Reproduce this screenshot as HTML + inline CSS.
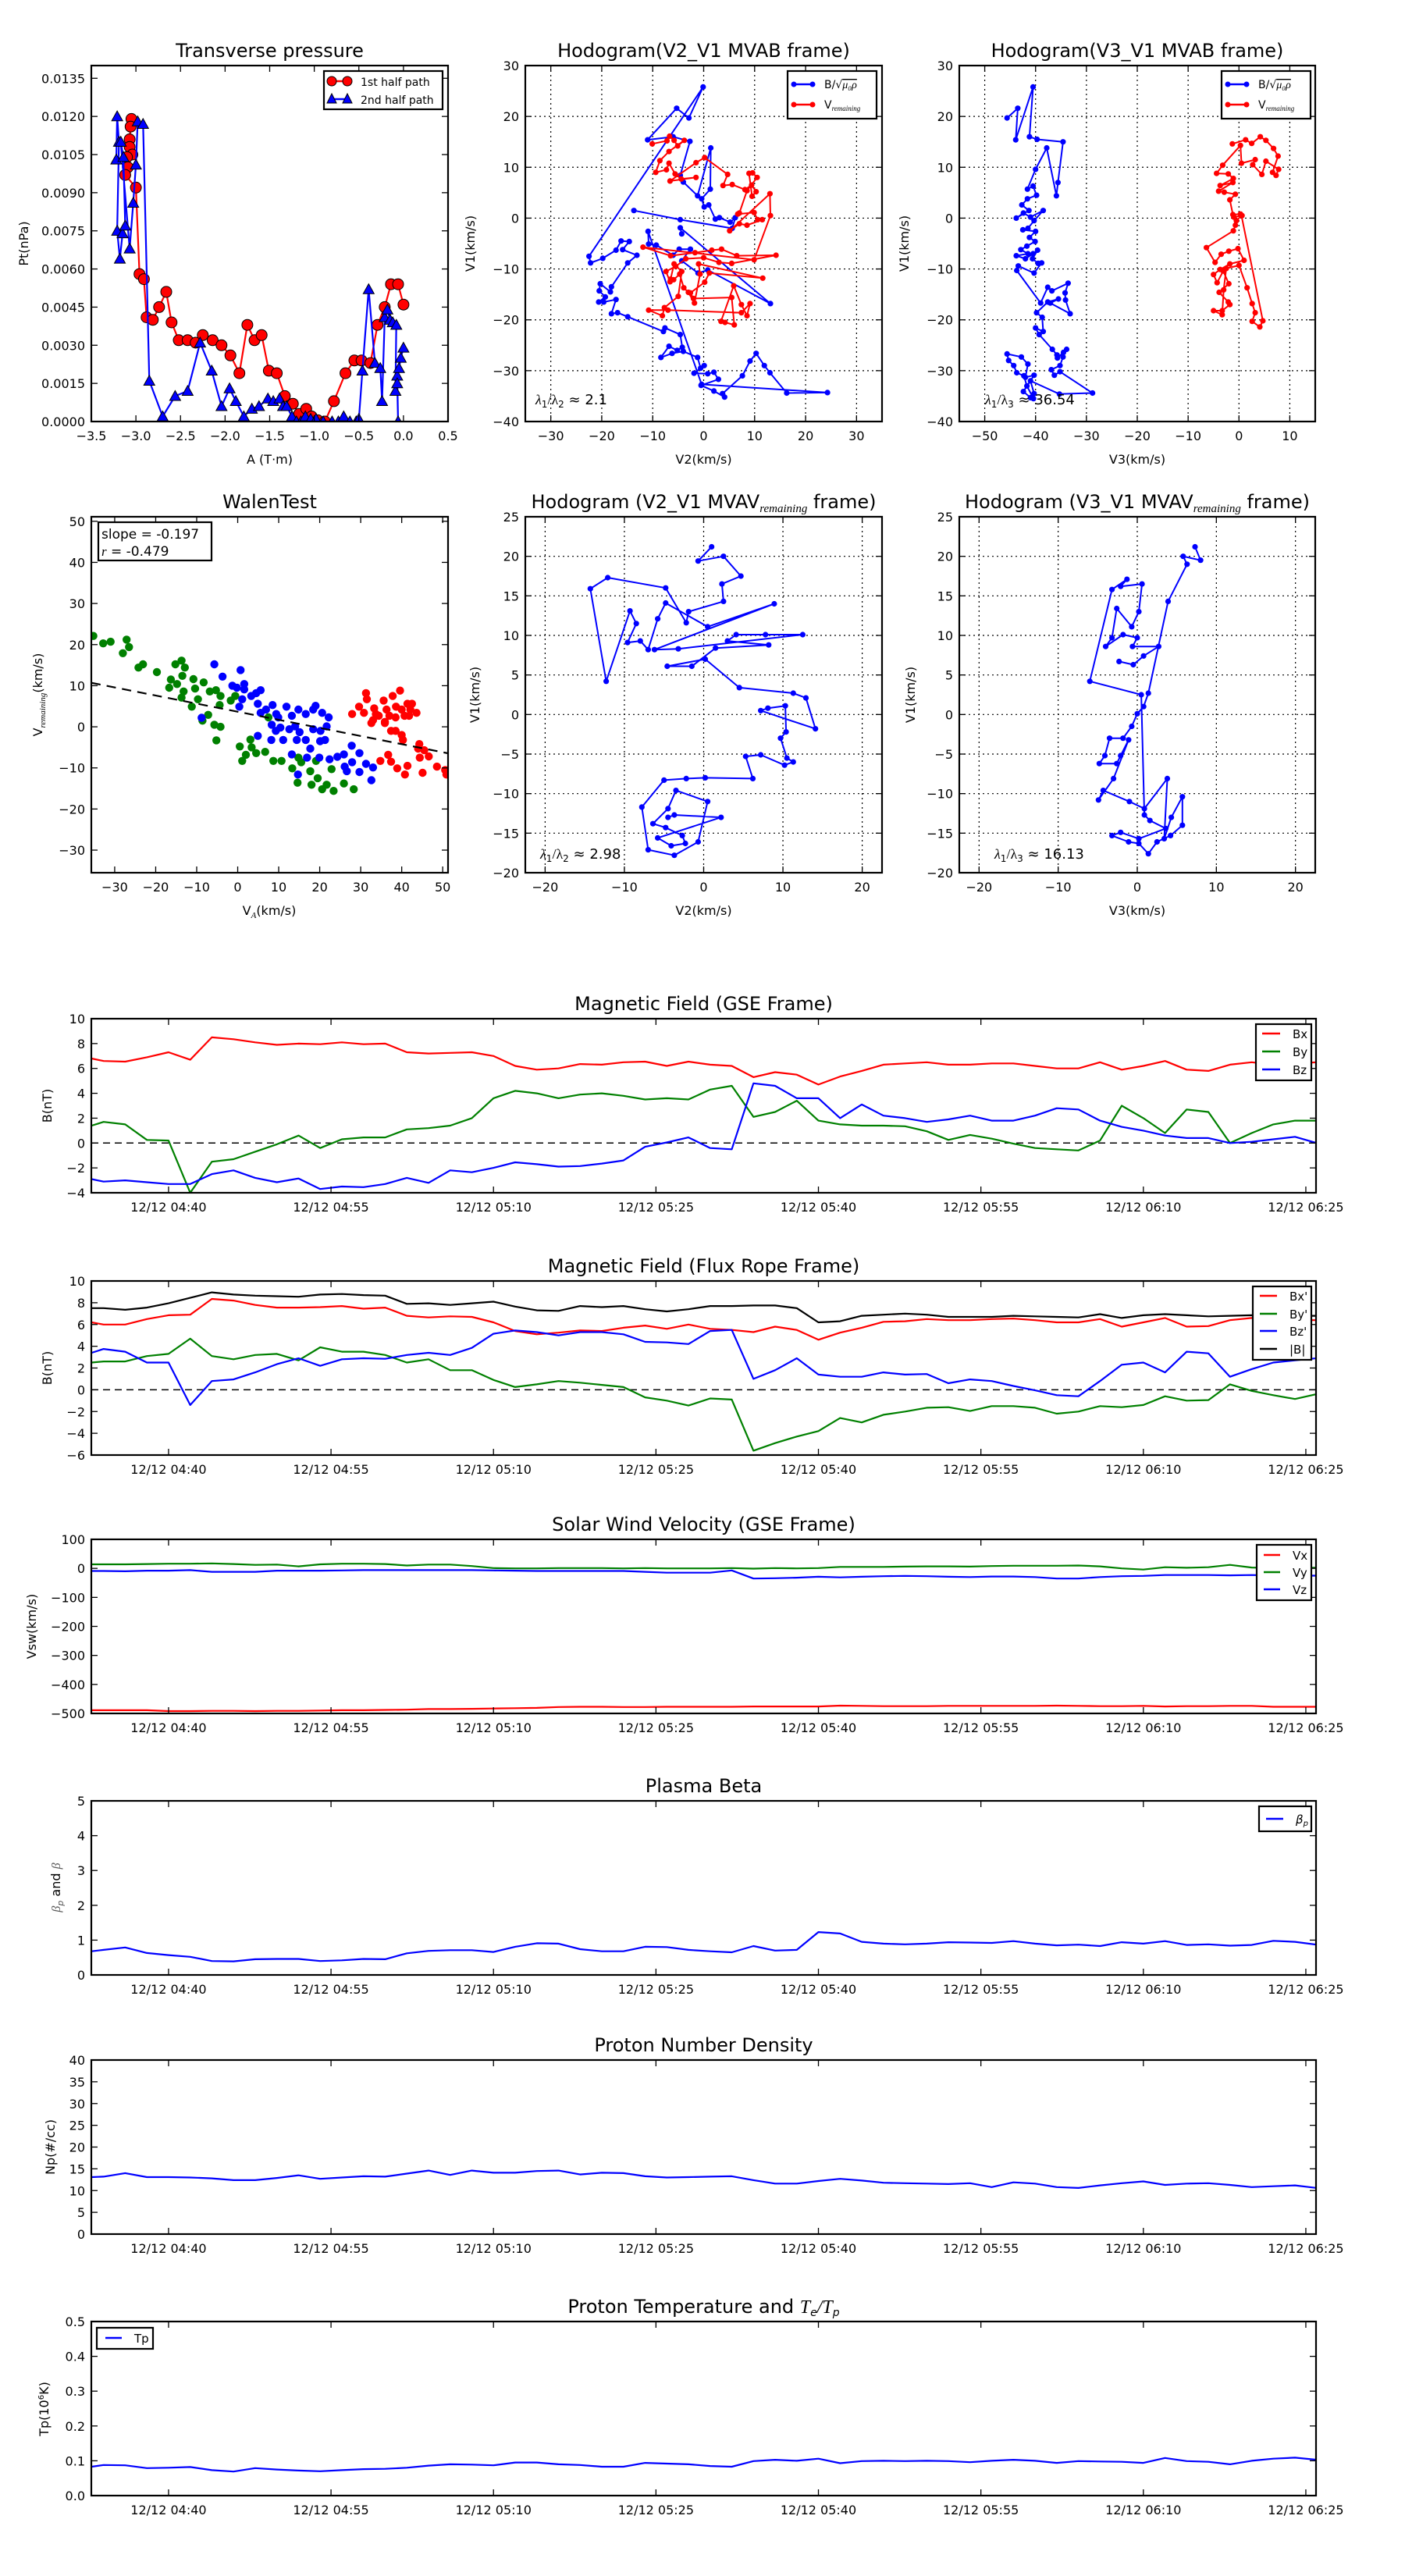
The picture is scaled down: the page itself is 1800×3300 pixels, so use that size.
<!DOCTYPE html>
<html><head><meta charset="utf-8">
<style>
body{margin:0;background:#fff}
svg{display:block}
text{font-family:"DejaVu Sans","Liberation Sans",sans-serif;fill:#000}
</style></head>
<body>
<svg id="fig" width="1800" height="3300" viewBox="0 0 1800 3300" xmlns="http://www.w3.org/2000/svg">
<rect x="0" y="0" width="1800" height="3300" fill="#fff"/>
</svg>
<script>
// ---------------- Time series data (minutes relative to 12/12 04:40) ----------------
const tMin = [-7.1,-6,-4,-2,0, 2,4,6,8,10,12,14,16,18,20, 22,24,26,28,30,32,34,36,38,40, 42,44,46,48,50,52,54,56,58,60, 62,64,66,68,70,72,74,76,78,80, 82,84,86,88,90,92,94,96,98,100, 102,104,106];
const tsTickMin = [0,15,30,45,60,75,90,105];
const tsTickLabels = ['12/12 04:40','12/12 04:55','12/12 05:10','12/12 05:25','12/12 05:40','12/12 05:55','12/12 06:10','12/12 06:25'];

const bxGse = [6.8,6.6,6.55,6.9,7.3, 6.7,8.5,8.35,8.1,7.9,8.0,7.95,8.1,7.95,8.0, 7.3,7.2,7.25,7.3,7.0,6.2,5.9,6.0,6.35,6.3, 6.5,6.55,6.2,6.55,6.3,6.2,5.3,5.7,5.5,4.7, 5.35,5.8,6.3,6.4,6.5,6.3,6.3,6.4,6.4,6.2, 6.0,6.0,6.5,5.9,6.2,6.6,5.9,5.8,6.3,6.5, 6.3,6.4,6.5];
const byGse = [1.4,1.7,1.5,0.25,0.2, -4.0,-1.5,-1.3,-0.7,-0.1,0.6,-0.4,0.3,0.45,0.45, 1.1,1.2,1.4,2.0,3.6,4.2,4.0,3.6,3.9,4.0, 3.8,3.5,3.6,3.5,4.3,4.6,2.1,2.5,3.4,1.8, 1.5,1.4,1.4,1.35,0.95,0.25,0.65,0.35,-0.05,-0.4, -0.5,-0.6,0.2,3.0,2.0,0.8,2.7,2.5,0.0,0.8, 1.5,1.8,1.8];
const bzGse = [-2.9,-3.1,-3.0,-3.15,-3.3, -3.3,-2.5,-2.2,-2.8,-3.15,-2.85,-3.7,-3.5,-3.55,-3.3, -2.8,-3.2,-2.2,-2.35,-2.0,-1.55,-1.7,-1.9,-1.85,-1.65, -1.4,-0.3,0.05,0.45,-0.4,-0.5,4.8,4.6,3.6,3.6, 2.0,3.1,2.2,2.0,1.7,1.9,2.2,1.8,1.8,2.2, 2.8,2.7,1.8,1.3,1.0,0.6,0.4,0.4,0.0,0.1, 0.3,0.5,0.0];

const bxFr = [6.2,6.0,6.0,6.5,6.85, 6.9,8.35,8.2,7.8,7.55,7.55,7.6,7.7,7.45,7.55, 6.8,6.65,6.75,6.7,6.2,5.4,5.1,5.25,5.45,5.4, 5.7,5.9,5.6,6.0,5.6,5.5,5.3,5.8,5.5,4.6, 5.25,5.7,6.25,6.3,6.5,6.4,6.4,6.5,6.55,6.4, 6.2,6.2,6.5,5.8,6.2,6.6,5.8,5.85,6.4,6.6, 6.4,6.4,6.4];
const byFr = [2.5,2.6,2.6,3.1,3.3, 4.7,3.1,2.8,3.2,3.3,2.7,3.9,3.5,3.5,3.2, 2.5,2.8,1.8,1.8,0.9,0.25,0.5,0.8,0.65,0.45, 0.25,-0.7,-1.0,-1.45,-0.8,-0.9,-5.6,-4.9,-4.3,-3.8, -2.6,-3.0,-2.3,-2.0,-1.65,-1.6,-1.95,-1.5,-1.5,-1.65, -2.2,-2.0,-1.5,-1.6,-1.4,-0.6,-1.0,-0.95,0.5,-0.1, -0.5,-0.85,-0.4];
const bzFr = [3.4,3.75,3.5,2.5,2.5, -1.4,0.8,0.95,1.6,2.35,2.9,2.2,2.8,2.9,2.85, 3.2,3.4,3.2,3.85,5.15,5.45,5.3,5.0,5.3,5.3, 5.1,4.4,4.35,4.2,5.4,5.5,1.0,1.8,2.9,1.4, 1.2,1.2,1.6,1.4,1.45,0.6,0.95,0.8,0.35,-0.05, -0.5,-0.6,0.8,2.3,2.5,1.6,3.5,3.35,1.2,1.9, 2.5,2.7,2.9];
const bMag = [7.5,7.5,7.35,7.55,7.95, 8.45,8.95,8.75,8.65,8.6,8.55,8.75,8.8,8.7,8.65, 7.9,7.95,7.8,7.95,8.1,7.65,7.3,7.25,7.7,7.6, 7.7,7.4,7.2,7.4,7.7,7.7,7.75,7.75,7.5,6.2, 6.3,6.8,6.9,7.0,6.9,6.7,6.7,6.7,6.8,6.75, 6.7,6.65,6.95,6.6,6.85,6.95,6.85,6.75,6.8,6.85, 6.8,6.8,6.8];

const vxSw = [-489,-489,-489,-489,-492, -492,-491,-491,-492,-491,-491,-490,-489,-489,-488, -487,-485,-485,-484,-483,-482,-481,-478,-477,-477, -478,-478,-477,-477,-477,-477,-476,-476,-476,-476, -473,-474,-475,-475,-475,-474,-474,-474,-474,-474, -473,-474,-475,-475,-474,-476,-475,-475,-474,-474, -477,-477,-477];
const vySw = [14,14,14,15,16, 16,17,15,12,13,7,14,16,16,15, 10,13,13,8,1,0,0,1,1,1, 0,1,0,0,0,1,-1,1,0,1, 5,5,5,6,7,7,6,8,9,9, 9,10,7,0,-4,4,2,4,12,3, 1,2,2];
const vzSw = [-9,-9,-10,-8,-8, -6,-12,-12,-12,-8,-8,-8,-7,-6,-6, -6,-6,-6,-6,-7,-8,-9,-9,-9,-9, -9,-12,-15,-15,-15,-7,-35,-34,-32,-29, -31,-29,-27,-26,-27,-29,-30,-28,-28,-30, -35,-35,-30,-27,-26,-23,-23,-23,-24,-23, -24,-25,-25];

const betaP = [0.68,0.72,0.79,0.63,0.57, 0.52,0.40,0.39,0.45,0.46,0.46,0.40,0.42,0.46,0.45, 0.62,0.69,0.71,0.71,0.66,0.81,0.91,0.9,0.74,0.68, 0.68,0.81,0.8,0.72,0.68,0.65,0.83,0.7,0.72,1.23, 1.19,0.95,0.9,0.88,0.9,0.94,0.93,0.92,0.97,0.9, 0.85,0.87,0.83,0.94,0.9,0.97,0.86,0.88,0.84,0.86, 0.98,0.95,0.87];
const npDens = [13.1,13.2,14.0,13.1,13.1, 13.0,12.8,12.4,12.4,12.9,13.5,12.7,13.0,13.3,13.2, 13.9,14.6,13.6,14.6,14.1,14.1,14.5,14.6,13.7,14.1, 14.0,13.3,13.0,13.1,13.2,13.3,12.4,11.6,11.6,12.2, 12.7,12.3,11.8,11.7,11.6,11.5,11.7,10.8,11.9,11.6, 10.8,10.6,11.2,11.7,12.1,11.3,11.6,11.7,11.3,10.8, 11.0,11.2,10.6];
const tpTemp = [0.083,0.088,0.087,0.079,0.08, 0.082,0.073,0.069,0.079,0.075,0.072,0.07,0.073,0.076,0.077, 0.08,0.086,0.09,0.089,0.087,0.095,0.095,0.09,0.088,0.083, 0.083,0.094,0.092,0.09,0.085,0.083,0.099,0.103,0.1,0.106, 0.093,0.099,0.1,0.099,0.1,0.099,0.096,0.1,0.103,0.1, 0.094,0.099,0.098,0.097,0.094,0.108,0.099,0.097,0.09,0.1, 0.106,0.109,0.103];

// ---------------- Transverse pressure ----------------
const ptFirstHalf = [[-3.05,0.0119],[-3.06,0.0116],[-3.07,0.0111],[-3.07,0.0108],[-3.04,0.0105],[-3.1,0.0104],[-3.09,0.0100],[-3.12,0.0097],[-3.0,0.0092],[-2.96,0.0058],[-2.91,0.0056],[-2.88,0.0041],[-2.81,0.0040],[-2.74,0.0045],[-2.66,0.0051],[-2.6,0.0039],[-2.52,0.0032],[-2.42,0.0032],[-2.33,0.0031],[-2.25,0.0034],[-2.14,0.0032],[-2.04,0.0030],[-1.94,0.0026],[-1.84,0.0019],[-1.75,0.0038],[-1.67,0.0032],[-1.59,0.0034],[-1.51,0.0020],[-1.42,0.0019],[-1.33,0.0010],[-1.24,0.0007],[-1.17,0.0003],[-1.09,0.0005],[-1.03,0.0002],[-0.96,0.00005],[-0.88,0.0],[-0.78,0.0008],[-0.65,0.0019],[-0.55,0.0024],[-0.47,0.0024],[-0.37,0.0023],[-0.29,0.0038],[-0.21,0.0045],[-0.14,0.0054],[-0.06,0.0054],[0.0,0.0046]];
const ptSecondHalf = [[-3.22,0.0103],[-3.21,0.0120],[-3.19,0.0110],[-3.21,0.0075],[-3.18,0.0064],[-3.15,0.0074],[-3.12,0.0077],[-3.14,0.0104],[-3.17,0.0110],[-3.07,0.0068],[-3.03,0.0086],[-3.0,0.0101],[-2.98,0.0118],[-2.92,0.0117],[-2.85,0.0016],[-2.7,0.0002],[-2.56,0.0010],[-2.42,0.0012],[-2.28,0.0031],[-2.15,0.0020],[-2.04,0.0006],[-1.95,0.0013],[-1.88,0.0008],[-1.79,0.0002],[-1.7,0.0005],[-1.62,0.0006],[-1.52,0.0009],[-1.46,0.0008],[-1.39,0.0009],[-1.35,0.0006],[-1.31,0.0006],[-1.25,0.0002],[-1.2,0.0],[-1.15,0.0],[-1.1,0.0002],[-1.04,0.0001],[-0.98,0.0001],[-0.9,0.0],[-0.8,0.0],[-0.73,0.0],[-0.67,0.0002],[-0.6,0.0],[-0.53,0.0],[-0.5,0.0001],[-0.46,0.0020],[-0.39,0.0052],[-0.32,0.0023],[-0.26,0.0021],[-0.24,0.0008],[-0.21,0.0041],[-0.18,0.0044],[-0.15,0.0040],[-0.12,0.0039],[-0.08,0.0038],[-0.09,0.0012],[-0.07,0.0018],[-0.06,0.0],[-0.07,0.0015],[-0.05,0.0021],[-0.03,0.0025],[0.0,0.0029]];

// ---------------- Hodogram V2_V1 MVAB ----------------
const hv2BMvab = [[-13.7,1.5],[-4.6,-0.3],[5.6,-2.0],[6.2,0.1],[5.2,-0.8],[3.1,0.1],[2.3,-0.2],[1,2.6],[0.1,2.2],[-0.4,3.8],[1.3,5.7],[1.4,13.8],[-1.2,4.4],[-4,7.1],[-4.6,8.4],[-2.7,15.1],[-6,16],[-11,15.4],[-5.3,21.6],[-2.9,19.7],[-0.1,25.8],[-22.5,-7.5],[-22.2,-8.8],[-19.8,-7.9],[-17.2,-6.3],[-16.2,-4.5],[-14.6,-4.6],[-15.9,-6.2],[-13.1,-7.3],[-14.9,-8.8],[-18.1,-13.5],[-18.3,-14.5],[-20.3,-12.9],[-20.5,-14.3],[-19.3,-15.5],[-20.6,-16.5],[-19.6,-16.5],[-17.2,-16],[-18.1,-18.8],[-16.9,-18.6],[-14.9,-19.4],[-7.9,-22.3],[-7.6,-21.6],[-4.6,-22.9],[-4.2,-25.4],[-5.2,-26],[-6.8,-25.2],[-8.4,-27.4],[-6.2,-26.6],[-4,-26.2],[-1.2,-27.4],[-0.6,-29.5],[0.1,-29],[-1.9,-30.5],[0.8,-30.6],[2,-30.3],[2.9,-31.7],[-0.5,-32.9],[2,-34],[4.1,-35.2],[3.7,-34.5],[7.6,-31],[9.1,-28.1],[10.3,-26.6],[11.9,-29],[13,-30.4],[16.3,-34.4],[24.3,-34.3],[-0.4,-32.7],[-10.9,-2.6],[-10.8,-5.1],[-9.3,-5.3],[-6,-7.3],[-4.8,-6.1],[-2.6,-6.1],[-4.3,-8.4],[-1.1,-10.8],[0.8,-10.2],[13.1,-16.8],[-4.6,-1.9],[-4.3,-3.1]];
const hv2VMvab = [[-10.1,14.6],[-7.2,15.2],[-6.7,16.1],[-5.8,15.3],[-5.1,14.2],[-3.8,15.3],[-6.8,13.1],[-8.6,11.3],[-9.4,9],[-7.3,9.5],[-6.8,10.8],[-5.6,8.7],[-4.4,7.7],[-1.5,8],[-6.6,7.3],[-1.5,10.9],[0.2,11.9],[4.7,8.6],[3.8,6.4],[5.6,6.6],[8.1,5.6],[9.4,6.5],[10.3,5.2],[9.5,4.3],[8.9,8.8],[9.6,8.9],[10.5,8],[8.5,5.4],[7,1],[6.7,0.8],[9.9,1.1],[10.6,-0.3],[11.5,-0.3],[8.5,-1.4],[7,-1.1],[5.1,-2.5],[13,4.8],[13.1,0.5],[9.9,-8.2],[-11.9,-5.7],[-6.5,-7.4],[-1.7,-6.8],[1.6,-6.3],[3.5,-6.1],[6.5,-7.4],[14.2,-7.3],[5.5,-8.9],[3,-8.7],[0,-7.8],[-3.5,-8],[-5.5,-9.5],[-7.4,-10.5],[-6.6,-12.5],[-5.9,-12.1],[-4.7,-11],[-3.9,-13.7],[-3,-14.6],[-1.8,-16.7],[-0.7,-11],[-1,-9],[11.6,-11.8],[1.1,-10.8],[0.2,-12.6],[-2.6,-14.7],[-2,-15.8],[5.5,-15.6],[6,-21],[4.2,-20.5],[3.4,-20.3],[5.9,-13.3],[7.4,-17],[8.5,-19.2],[9.1,-16.8],[7.4,-18.6],[-7,-18.1],[-10.8,-18.1],[-8.1,-19.2],[-7.7,-17.6],[-5,-15.4],[-4.3,-10.5],[-5.8,-9],[-6.5,-12]];

// ---------------- Hodogram V3_V1 MVAB ----------------
const hv3BMvab = [[-45.6,19.7],[-43.5,21.6],[-43.9,15.4],[-40.5,25.8],[-41.2,16],[-39.7,15.5],[-34.6,15],[-35.6,7],[-35.9,4.4],[-37.8,13.8],[-40,9.6],[-41.6,5.7],[-40.5,6.3],[-39.8,4.5],[-41.6,3.8],[-42.7,2.6],[-41.3,1.5],[-43.8,0],[-42.4,1],[-41,0.2],[-38.5,1.5],[-40.3,-0.5],[-41.5,-2],[-42.5,-2.3],[-40,-2.6],[-41.2,-3.8],[-40.1,-4.6],[-41.7,-5.5],[-42.9,-6.2],[-41.5,-7],[-43.8,-7.4],[-42,-8],[-40.5,-7],[-39.6,-6.3],[-40.6,-8],[-39.5,-8.9],[-38.8,-8.8],[-40.3,-10.8],[-43.4,-9.4],[-43.7,-10.3],[-39,-16.7],[-37.6,-13.6],[-36.8,-14.3],[-33.6,-12.8],[-34.2,-14.7],[-34.1,-16.1],[-33.2,-18.8],[-37.1,-16.7],[-35.5,-15.9],[-37.6,-16.5],[-39.8,-18.6],[-38.7,-19.5],[-38.5,-22.3],[-40,-21.6],[-39.3,-22.9],[-36.7,-25.8],[-35.8,-26.9],[-35.7,-27.5],[-33.9,-25.8],[-34.5,-26.4],[-34.6,-27.3],[-35.2,-29],[-36.9,-29.8],[-36.3,-30.9],[-35.2,-30.2],[-28.8,-34.4],[-35.3,-34.6],[-41,-32],[-40.3,-34.5],[-40.4,-35.5],[-41.7,-33],[-42.3,-31],[-43.7,-30.4],[-44.3,-29],[-45.3,-28],[-45.6,-26.7],[-42.8,-27.3],[-41.5,-28.7],[-42,-31.3],[-40.3,-30.9],[-42.4,-34.1],[-41,-35.3]];
const hv3VMvab = [[-1.3,14.6],[1.3,15.4],[2.5,14.7],[4.2,16],[5.3,15.3],[6.8,13.7],[7.7,12.2],[6.6,9],[7.3,8.4],[7.8,9.6],[5.3,11.2],[4.5,8.6],[2.7,10.5],[3.2,11.5],[0.5,10.8],[0.3,14.3],[-3.2,10.4],[-4.4,8.8],[-2.1,8.7],[-1.1,7.8],[-3.7,6.4],[-1.2,7],[-4,5.3],[-2.9,5.1],[-0.7,4.7],[-1.8,3.6],[-1.2,0.7],[0.3,0.8],[0.6,0.5],[-1,0.2],[-0.7,-1.4],[-1.1,-2.5],[-6.4,-5.8],[-4.7,-8.7],[-3.5,-7.1],[-2,-6.5],[-0.2,-6],[1,-8.3],[-1.8,-9],[-3.7,-10.1],[-5,-11.1],[-4.3,-12.7],[-3.1,-10.4],[-2,-12.9],[-3.9,-14.6],[-2.1,-16.5],[-1.8,-17],[-3.3,-18.2],[-5,-18.2],[-3.3,-19],[-3,-14.1],[-2.5,-9.9],[0,-9.3],[1.6,-13.7],[2.6,-16.8],[3.2,-18.6],[2.6,-20.3],[4.1,-21.4],[4.7,-20.2],[0.5,0.5],[-0.5,-0.5]];

// ---------------- Walen test ----------------
const walenGreen = [[-35.2,22.1],[-32.8,20.3],[-31,20.7],[-27.1,21.2],[-26.5,19.4],[-28,17.9],[-24.2,14.4],[-23.1,15.2],[-19.7,13.3],[-16.7,9.5],[-16.3,11.5],[-14.8,10.4],[-15.2,15.2],[-13.7,16.1],[-12.9,14.4],[-13.5,12.4],[-10.8,11.6],[-10.4,9.3],[-11.2,4.9],[-13.7,7.1],[-13.2,8.6],[-9.7,6.7],[-8.3,10.8],[-6.8,8.6],[-5.3,8.9],[-4.2,7.5],[-4.4,5.3],[-1.7,6.4],[-0.6,7.5],[-7.2,2.9],[-8.6,1.5],[-5.7,0.5],[-4.2,0],[-5.2,-3.3],[0.5,-4.8],[1.1,-8.3],[3.1,-3.1],[3.4,-5],[2,-6.8],[4.5,-6.4],[6.7,-6.1],[8.7,-8.3],[10.7,-8.3],[13.3,-10.1],[14.8,-7.5],[15.5,-8.6],[14.6,-13.6],[17.7,-10.8],[19.1,-8.3],[18,-14.1],[19.5,-12.5],[20.6,-15.2],[21.7,-14.1],[22.9,-10.3],[23.4,-15.6],[25.9,-13.8],[28.3,-15.2],[7.5,2.3]];
const walenBlue = [[-5.7,15.2],[-3.7,12.2],[0.7,13.8],[-1.3,10],[-0.2,9.5],[1.6,10.4],[1.6,9.1],[1.1,6.7],[0.4,4.9],[3.3,7.5],[5.6,8.9],[4.5,8.2],[4.9,5.6],[5.6,3.4],[6.9,4.2],[8.5,5.3],[9.4,3.1],[8.3,0.5],[9.9,2.3],[9.3,-1],[10.4,-0.2],[11.9,4.9],[13.2,2.7],[14.8,4.2],[16.6,3.1],[18.4,4.2],[19,5.1],[20.6,3.4],[22.2,2.3],[12.6,-0.6],[14,0.1],[15.1,-1.3],[16.6,-3.2],[18.4,-0.6],[20.2,-1],[21.7,0.1],[20.1,-3.5],[21.3,-3.2],[14.4,-3.2],[11.1,-3.2],[4.9,-2.2],[8.2,-3.2],[13.2,-6.7],[16.9,-7.5],[17.7,-5.3],[19.9,-7.5],[14.7,-11.6],[22.4,-7.9],[24.3,-7.3],[25.9,-6.7],[27.8,-4.6],[26.1,-9.7],[26.6,-10.8],[27.9,-8.6],[29.7,-6.4],[29.7,-11],[31.3,-9],[33,-9.9],[32.6,-13],[-8.8,2.2]];
const walenRed = [[27.9,3.1],[29.6,4.9],[31.3,8.2],[31.5,6.7],[30.8,3.4],[32.6,0.9],[33.3,4.5],[34.4,2.7],[35.6,6.4],[36.3,4.2],[35.9,0.9],[37,2.7],[37.8,7.5],[38.6,4.9],[39.6,8.8],[40,4.2],[40.7,2.7],[41.4,5.6],[42.5,5.6],[43.6,3.4],[41.8,2.7],[38.5,2.3],[37.4,-1],[38.5,-1],[40,-2],[40.3,-3.2],[34.8,-8.3],[36.7,-6.8],[37.4,-8.5],[38.9,-10.1],[40.8,-11.6],[41.4,-9.5],[44.3,-4.2],[44.4,-7.5],[45.5,-5.7],[46.6,-7.2],[45.1,-11.2],[48.6,-9.7],[50.6,-10.5],[50.9,-11.6],[44,-5.3],[33,1.6],[33.7,3.1],[35.9,1.2],[42.1,4.2]];
const walenSlope = -0.197;
const walenIntercept = 3.67;

// ---------------- MVAV hodograms ----------------
const hv2Mvav = [[1,21.2],[-0.7,19.4],[2.5,20],[4.7,17.5],[2.3,16.5],[2.5,14.3],[-1.9,13],[-2.2,11.6],[-4.8,16],[-12.1,17.3],[-14.3,15.9],[-12.3,4.2],[-9.3,13.1],[-8.5,11.5],[-9.6,9.1],[-8,9.3],[-7,8.2],[-5.8,12.1],[-4.8,14.1],[0.5,11.1],[8.9,14],[-6.2,8.2],[-3.2,8.3],[12.5,10.1],[7.8,10.1],[4.1,10.1],[3,9.3],[8.2,8.8],[1.5,8.4],[-1.5,6.1],[-4.6,6.1],[0.2,7],[4.5,3.4],[11.3,2.7],[12.9,2.1],[14.1,-1.8],[7.2,0.5],[8.1,0.8],[10.3,1.1],[10.4,-2.2],[9.7,-3],[10.5,-5.5],[11.3,-6],[10.2,-6.4],[7.2,-5.1],[5.3,-5.3],[6.2,-8.1],[0.2,-8],[-2.2,-8.1],[-5,-8.3],[-7.8,-11.7],[-7,-17.1],[-3.7,-17.8],[-0.7,-16.1],[0.5,-11],[-3.5,-9.6],[-4.5,-11.9],[-6.4,-13.8],[-4.8,-14.3],[-2.7,-15.3],[-2.3,-16.3],[-4.1,-16.6],[-5.8,-15.6],[2.2,-13],[-3.7,-12.7],[-4.5,-13]];
const hv3Mvav = [[7.3,21.2],[8,19.5],[5.8,20],[6.3,19],[3.9,14.3],[1.4,2.7],[0.8,1],[0,0.1],[-0.7,-1.5],[-1.8,-3],[-3.5,-3],[-4.1,-5.2],[-4.8,-6.2],[-2.6,-6.2],[-2.1,-5.2],[-1.1,-3.2],[-3,-8.1],[-4.9,-10.8],[-4.3,-9.6],[-1,-11],[0.9,-11.9],[3.8,-8.1],[3.4,-15.7],[4.3,-13],[5.7,-10.4],[5.7,-14],[4.2,-15.3],[2.5,-16.1],[1.4,-17.6],[0.2,-16.3],[-1.1,-16.1],[-3.2,-15.3],[-2.1,-14.9],[0.2,-15.7],[3.6,-14.4],[1.6,-13.4],[0.9,-12.7],[0.5,2.5],[-6,4.2],[-3.2,15.8],[-1.3,17.1],[-2.1,16.2],[0.6,16.5],[0.2,13],[-0.7,11.1],[-2.6,13.4],[-3.2,9.7],[-4,8.6],[-1.8,10.1],[0,9.7],[-0.6,8.6],[2.7,8.6],[0.8,7.4],[-0.5,6.3],[-2.3,6.7]];

// ================= drawing helpers =================
const NS = 'http://www.w3.org/2000/svg';
const svg = document.getElementById('fig');
function mk(tag, attrs, parent) {
  const e = document.createElementNS(NS, tag);
  for (const k in attrs) e.setAttribute(k, attrs[k]);
  parent.appendChild(e);
  return e;
}
const MINUS = '\u2212';
const TITLE_SIZE = 24;
function fmtNum(v, d) { const s = Math.abs(v).toFixed(d); return (v < 0 ? MINUS : '') + s; }
function label(parent, x, y, s, size, anchor, name, extra) {
  const t = mk('text', Object.assign({x: x, y: y, 'font-size': size, 'text-anchor': anchor}, extra || {}), parent);
  t.textContent = s;
  
  
  return t;
}
let clipId = 0;
function makeAxes(o) {
  const g = mk('g', {}, svg);
  
  
  const sx = v => o.x + (v - o.xmin) / (o.xmax - o.xmin) * o.w;
  const sy = v => o.y + o.h - (v - o.ymin) / (o.ymax - o.ymin) * o.h;
  if (o.grid) {
    const gg = mk('g', {}, g);
    
    
    o.xticks.forEach(v => { const X = sx(v); if (X > o.x + 1 && X < o.x + o.w - 1) mk('line', {x1: X, y1: o.y, x2: X, y2: o.y + o.h, stroke: '#000', 'stroke-width': 1.2, 'stroke-dasharray': '2,4'}, gg); });
    o.yticks.forEach(v => { const Y = sy(v); if (Y > o.y + 1 && Y < o.y + o.h - 1) mk('line', {x1: o.x, y1: Y, x2: o.x + o.w, y2: Y, stroke: '#000', 'stroke-width': 1.2, 'stroke-dasharray': '2,4'}, gg); });
  }
  const cid = 'clip' + (clipId++);
  const cp = mk('clipPath', {id: cid}, g);
  mk('rect', {x: o.x, y: o.y, width: o.w, height: o.h}, cp);
  const data = mk('g', {'clip-path': 'url(#' + cid + ')'}, g);
  
  
  const top = mk('g', {}, g);
  const frame = mk('rect', {x: o.x, y: o.y, width: o.w, height: o.h, fill: 'none', stroke: '#000', 'stroke-width': 2.2}, top);
  
  
  const tl = 8;
  const xt = mk('g', {}, top);
  
  
  o.xticks.forEach((v, i) => {
    const X = sx(v);
    mk('line', {x1: X, y1: o.y + o.h, x2: X, y2: o.y + o.h - tl, stroke: '#000', 'stroke-width': 1.3}, xt);
    mk('line', {x1: X, y1: o.y, x2: X, y2: o.y + tl, stroke: '#000', 'stroke-width': 1.3}, xt);
    label(xt, X, o.y + o.h + 24, o.xlabels[i], 16, 'middle', 'x-tick-label');
  });
  const yt = mk('g', {}, top);
  
  
  o.yticks.forEach((v, i) => {
    const Y = sy(v);
    mk('line', {x1: o.x, y1: Y, x2: o.x + tl, y2: Y, stroke: '#000', 'stroke-width': 1.3}, yt);
    mk('line', {x1: o.x + o.w, y1: Y, x2: o.x + o.w - tl, y2: Y, stroke: '#000', 'stroke-width': 1.3}, yt);
    label(yt, o.x - 8, Y + 6, o.ylabels[i], 16, 'end', 'y-tick-label');
  });
  if (o.title) label(top, o.x + o.w / 2, o.y - 11, o.title, TITLE_SIZE, 'middle', 'chart-title');
  if (o.xtitle) label(top, o.x + o.w / 2, o.xtitleY, o.xtitle, 16, 'middle', 'x-axis-title');
  if (o.ytitle) label(top, o.ytitleX, o.y + o.h / 2, o.ytitle, 16, 'middle', 'y-axis-title', {transform: 'rotate(-90 ' + o.ytitleX + ' ' + (o.y + o.h / 2) + ')'});
  return {g: g, data: data, top: top, sx: sx, sy: sy, o: o};
}
function linePath(ax, xs, ys, color, width, name, dash) {
  let d = '';
  for (let i = 0; i < xs.length; i++) d += (i ? 'L' : 'M') + ax.sx(xs[i]).toFixed(1) + ',' + ax.sy(ys[i]).toFixed(1);
  const p = mk('path', {d: d, fill: 'none', stroke: color, 'stroke-width': width, 'stroke-linejoin': 'round'}, ax.data);
  if (dash) p.setAttribute('stroke-dasharray', dash);
  
  
  return p;
}
function pairsLine(ax, pts, color, width, name) {
  return linePath(ax, pts.map(p => p[0]), pts.map(p => p[1]), color, width, name);
}
function dots(ax, pts, color, r, stroke, name) {
  const g = mk('g', {}, ax.data);
  
  
  pts.forEach(p => {
    const c = mk('circle', {cx: ax.sx(p[0]).toFixed(1), cy: ax.sy(p[1]).toFixed(1), r: r, fill: color, stroke: stroke || 'none', 'stroke-width': 1}, g);
    
    
  });
}
function tris(ax, pts, color, s, name) {
  const g = mk('g', {}, ax.data);
  
  
  pts.forEach(p => {
    const X = ax.sx(p[0]), Y = ax.sy(p[1]);
    const poly = mk('polygon', {points: X + ',' + (Y - s) + ' ' + (X - s) + ',' + (Y + s * 0.8) + ' ' + (X + s) + ',' + (Y + s * 0.8), fill: color, stroke: '#000', 'stroke-width': 1}, g);
    
    
  });
}
function legendBox(parent, x, y, w, h, name) {
  const g = mk('g', {}, parent);
  
  
  mk('rect', {x: x, y: y, width: w, height: h, fill: '#fff', stroke: '#000', 'stroke-width': 2.2}, g);
  return g;
}
function legendLine(g, x1, x2, y, color, name) {
  const l = mk('line', {x1: x1, y1: y, x2: x2, y2: y, stroke: color, 'stroke-width': 2.5}, g);
  
  
}
function ticksRange(a, b, s) { const r = []; for (let v = a; v <= b + 1e-9; v += s) r.push(Math.round(v * 1e6) / 1e6); return r; }

// ================= Row 1 =================
const ptXT = ticksRange(-3.5, 0.5, 0.5);
const ptYT = ticksRange(0, 0.0135, 0.0015);
const axPt = makeAxes({name: 'transverse-pressure-chart', x: 117, y: 84, w: 457, h: 456, xmin: -3.5, xmax: 0.5, ymin: 0, ymax: 0.014,
  xticks: ptXT, xlabels: ptXT.map(v => fmtNum(v, 1)), yticks: ptYT, ylabels: ptYT.map(v => v.toFixed(4)),
  title: 'Transverse pressure', xtitle: 'A (T\u00b7m)', xtitleY: 594, ytitle: 'Pt(nPa)', ytitleX: 36});
pairsLine(axPt, ptFirstHalf, '#ff0000', 2.2, 'first-half-path-line');
dots(axPt, ptFirstHalf, '#ff0000', 7, '#000', 'first-half-path-markers');
pairsLine(axPt, ptSecondHalf, '#0000ff', 2.2, 'second-half-path-line');
tris(axPt, ptSecondHalf, '#0000ff', 7, 'second-half-path-markers');
{
  const lg = legendBox(axPt.top, 415, 91, 152, 49, 'legend');
  legendLine(lg, 425, 445, 104, '#ff0000', 'legend-swatch-1st');
  mk('circle', {cx: 425, cy: 104, r: 6, fill: '#f00', stroke: '#000'}, lg);
  mk('circle', {cx: 445, cy: 104, r: 6, fill: '#f00', stroke: '#000'}, lg);
  label(lg, 462, 110, '1st half path', 14, 'start', 'legend-entry-1st-half');
  legendLine(lg, 425, 445, 127, '#0000ff', 'legend-swatch-2nd');
  mk('polygon', {points: '425,120 419,132 431,132', fill: '#00f', stroke: '#000'}, lg);
  mk('polygon', {points: '445,120 439,132 451,132', fill: '#00f', stroke: '#000'}, lg);
  label(lg, 462, 133, '2nd half path', 14, 'start', 'legend-entry-2nd-half');
}

function hodoLegend(ax, x) {
  const lg = legendBox(ax.top, x, 91, 114, 61, 'legend');
  legendLine(lg, x + 8, x + 32, 108, '#0000ff', 'legend-swatch-b');
  mk('circle', {cx: x + 8, cy: 108, r: 3.5, fill: '#00f'}, lg);
  mk('circle', {cx: x + 32, cy: 108, r: 3.5, fill: '#00f'}, lg);
  const t1 = label(lg, x + 47, 113, 'B/\u221a', 14, 'start', 'legend-entry-b');
  const ts = mk('tspan', {'font-style': 'italic', 'font-family': 'Liberation Serif, serif', 'text-decoration': 'overline'}, t1);
  ts.textContent = '\u03bc\u2080\u03c1';
  legendLine(lg, x + 8, x + 32, 134, '#ff0000', 'legend-swatch-v');
  mk('circle', {cx: x + 8, cy: 134, r: 3.5, fill: '#f00'}, lg);
  mk('circle', {cx: x + 32, cy: 134, r: 3.5, fill: '#f00'}, lg);
  const t2 = label(lg, x + 47, 139, 'V', 14, 'start', 'legend-entry-v-remaining');
  const sub = mk('tspan', {'font-size': 9, 'font-style': 'italic', 'font-family': 'Liberation Serif, serif', dy: 3}, t2);
  sub.textContent = 'remaining';
}
function lambdaText(ax, x, y, a, b, val) {
  const t = label(ax.top, x, y, '', 18, 'start', 'eigenvalue-ratio-annotation');
  const p1 = mk('tspan', {'font-style': 'italic', 'font-family': 'Liberation Serif, serif'}, t); p1.textContent = '\u03bb';
  const s1 = mk('tspan', {'font-size': 12, dy: 4}, t); s1.textContent = a;
  const p2 = mk('tspan', {dy: -4, 'font-family': 'Liberation Serif, serif'}, t); p2.textContent = '/\u03bb';
  const s2 = mk('tspan', {'font-size': 12, dy: 4}, t); s2.textContent = b;
  const p3 = mk('tspan', {dy: -4}, t); p3.textContent = ' \u2248 ' + val;
}
const h2XT = ticksRange(-30, 30, 10), hYT = ticksRange(-40, 30, 10);
const axH2 = makeAxes({name: 'hodogram-v2-v1-mvab-chart', x: 673, y: 84, w: 457, h: 456, xmin: -35, xmax: 35, ymin: -40, ymax: 30,
  xticks: h2XT, xlabels: h2XT.map(v => fmtNum(v, 0)), yticks: hYT, ylabels: hYT.map(v => fmtNum(v, 0)), grid: true,
  title: 'Hodogram(V2_V1 MVAB frame)', xtitle: 'V2(km/s)', xtitleY: 594, ytitle: 'V1(km/s)', ytitleX: 608});
pairsLine(axH2, hv2BMvab, '#0000ff', 2, 'b-alfven-line');
dots(axH2, hv2BMvab, '#0000ff', 3.6, null, 'b-alfven-points');
pairsLine(axH2, hv2VMvab, '#ff0000', 2, 'v-remaining-line');
dots(axH2, hv2VMvab, '#ff0000', 3.6, null, 'v-remaining-points');
hodoLegend(axH2, 1009);
lambdaText(axH2, 686, 518, '1', '2', '2.1');

const h3XT = ticksRange(-50, 10, 10);
const axH3 = makeAxes({name: 'hodogram-v3-v1-mvab-chart', x: 1229, y: 84, w: 456, h: 456, xmin: -55, xmax: 15, ymin: -40, ymax: 30,
  xticks: h3XT, xlabels: h3XT.map(v => fmtNum(v, 0)), yticks: hYT, ylabels: hYT.map(v => fmtNum(v, 0)), grid: true,
  title: 'Hodogram(V3_V1 MVAB frame)', xtitle: 'V3(km/s)', xtitleY: 594, ytitle: 'V1(km/s)', ytitleX: 1164});
pairsLine(axH3, hv3BMvab, '#0000ff', 2, 'b-alfven-line');
dots(axH3, hv3BMvab, '#0000ff', 3.6, null, 'b-alfven-points');
pairsLine(axH3, hv3VMvab, '#ff0000', 2, 'v-remaining-line');
dots(axH3, hv3VMvab, '#ff0000', 3.6, null, 'v-remaining-points');
hodoLegend(axH3, 1565);
lambdaText(axH3, 1262, 518, '1', '3', '36.54');

// ================= Row 2 =================
const wXT = ticksRange(-30, 50, 10), wYT = ticksRange(-30, 50, 10);
const axW = makeAxes({name: 'walen-test-chart', x: 117, y: 662, w: 457, h: 456, xmin: -35.7, xmax: 51.3, ymin: -35.5, ymax: 51.1,
  xticks: wXT, xlabels: wXT.map(v => fmtNum(v, 0)), yticks: wYT, ylabels: wYT.map(v => fmtNum(v, 0)),
  title: 'WalenTest', xtitle: '', xtitleY: 1172});
{
  const xl = label(axW.top, 345, 1172, 'V', 16, 'middle', 'x-axis-title');
  const s = mk('tspan', {'font-size': 11, 'font-style': 'italic', 'font-family': 'Liberation Serif, serif', dy: 4}, xl); s.textContent = 'A';
  const r = mk('tspan', {dy: -4}, xl); r.textContent = '(km/s)';
  const yl = label(axW.top, 54, 890, 'V', 16, 'middle', 'y-axis-title', {transform: 'rotate(-90 54 890)'});
  const s2 = mk('tspan', {'font-size': 11, 'font-style': 'italic', 'font-family': 'Liberation Serif, serif', dy: 4}, yl); s2.textContent = 'remaining';
  const r2 = mk('tspan', {dy: -4}, yl); r2.textContent = '(km/s)';
}
dots(axW, walenGreen, '#008000', 5.2, null, 'walen-green-points');
dots(axW, walenBlue, '#0000ff', 5.2, null, 'walen-blue-points');
dots(axW, walenRed, '#ff0000', 5.2, null, 'walen-red-points');
{
  const fx = [axW.o.xmin, axW.o.xmax];
  linePath(axW, fx, fx.map(v => walenIntercept + walenSlope * v), '#000', 2.2, 'walen-fit-line', '12,8');
  const bx = legendBox(axW.top, 126, 669, 145, 49, 'walen-stats-box');
  label(bx, 130, 690, 'slope = -0.197', 17, 'start', 'slope-text');
  const rt = label(bx, 130, 712, '', 17, 'start', 'correlation-text');
  const ri = mk('tspan', {'font-style': 'italic', 'font-family': 'Liberation Serif, serif'}, rt); ri.textContent = 'r';
  const rv = mk('tspan', {}, rt); rv.textContent = ' = -0.479';
}
function mvavTitle(ax, v) {
  const t = label(ax.top, ax.o.x + ax.o.w / 2, ax.o.y - 11, 'Hodogram (' + v + '_V1 MVAV', TITLE_SIZE, 'middle', 'chart-title');
  const s = mk('tspan', {'font-size': 15, 'font-style': 'italic', 'font-family': 'Liberation Serif, serif', dy: 5}, t); s.textContent = 'remaining';
  const r = mk('tspan', {dy: -5}, t); r.textContent = ' frame)';
}
const mXT = ticksRange(-20, 20, 10), mYT = ticksRange(-20, 25, 5);
const axM2 = makeAxes({name: 'hodogram-v2-v1-mvav-chart', x: 673, y: 662, w: 457, h: 456, xmin: -22.5, xmax: 22.5, ymin: -20, ymax: 25,
  xticks: mXT, xlabels: mXT.map(v => fmtNum(v, 0)), yticks: mYT, ylabels: mYT.map(v => fmtNum(v, 0)), grid: true,
  xtitle: 'V2(km/s)', xtitleY: 1172, ytitle: 'V1(km/s)', ytitleX: 614});
mvavTitle(axM2, 'V2');
pairsLine(axM2, hv2Mvav, '#0000ff', 2, 'b-alfven-line');
dots(axM2, hv2Mvav, '#0000ff', 3.6, null, 'b-alfven-points');
lambdaText(axM2, 692, 1100, '1', '2', '2.98');
const axM3 = makeAxes({name: 'hodogram-v3-v1-mvav-chart', x: 1229, y: 662, w: 456, h: 456, xmin: -22.5, xmax: 22.5, ymin: -20, ymax: 25,
  xticks: mXT, xlabels: mXT.map(v => fmtNum(v, 0)), yticks: mYT, ylabels: mYT.map(v => fmtNum(v, 0)), grid: true,
  xtitle: 'V3(km/s)', xtitleY: 1172, ytitle: 'V1(km/s)', ytitleX: 1172});
mvavTitle(axM3, 'V3');
pairsLine(axM3, hv3Mvav, '#0000ff', 2, 'b-alfven-line');
dots(axM3, hv3Mvav, '#0000ff', 3.6, null, 'b-alfven-points');
lambdaText(axM3, 1274, 1100, '1', '3', '16.13');

// ================= Time series =================
const TX0 = 117, TW = 1569, TMIN = -7.13, TMAX = 105.94, TH = 223;
function tsAxes(name, y, ymin, ymax, yticks, yfmt, title, ytitle, ytx) {
  return makeAxes({name: name, x: TX0, y: y, w: TW, h: TH, xmin: TMIN, xmax: TMAX, ymin: ymin, ymax: ymax,
    xticks: tsTickMin, xlabels: tsTickLabels, yticks: yticks, ylabels: yticks.map(yfmt),
    title: title, ytitle: ytitle, ytitleX: ytx});
}
function tsLegend(ax, x, y, w, entries, rowY, lineX1, lineX2, textX) {
  const lg = legendBox(ax.top, x, y, w, rowY[rowY.length - 1] - y + 14, 'legend');
  entries.forEach((e, i) => {
    legendLine(lg, lineX1, lineX2, rowY[i], e[0], 'legend-swatch');
    label(lg, textX, rowY[i] + 6, e[1], 15, 'start', 'legend-entry');
  });
  return lg;
}
const fmt0 = v => fmtNum(v, 0);
const axG = tsAxes('magnetic-field-gse-chart', 1305, -4, 10, ticksRange(-4, 10, 2), fmt0, 'Magnetic Field (GSE Frame)', 'B(nT)', 66);
linePath(axG, [TMIN, TMAX], [0, 0], '#000', 1.5, 'zero-line', '9,6');
linePath(axG, tMin, bxGse, '#ff0000', 2.2, 'bx-line');
linePath(axG, tMin, byGse, '#008000', 2.2, 'by-line');
linePath(axG, tMin, bzGse, '#0000ff', 2.2, 'bz-line');
tsLegend(axG, 1609, 1312, 71, [['#ff0000', 'Bx'], ['#008000', 'By'], ['#0000ff', 'Bz']], [1324, 1347, 1370], 1617, 1640, 1656);

const axF = tsAxes('magnetic-field-flux-rope-chart', 1641, -6, 10, ticksRange(-6, 10, 2), fmt0, 'Magnetic Field (Flux Rope Frame)', 'B(nT)', 66);
linePath(axF, [TMIN, TMAX], [0, 0], '#000', 1.5, 'zero-line', '9,6');
linePath(axF, tMin, bxFr, '#ff0000', 2.2, 'bx-prime-line');
linePath(axF, tMin, byFr, '#008000', 2.2, 'by-prime-line');
linePath(axF, tMin, bzFr, '#0000ff', 2.2, 'bz-prime-line');
linePath(axF, tMin, bMag, '#000000', 2.2, 'b-magnitude-line');
tsLegend(axF, 1605, 1648, 75, [['#ff0000', "Bx'"], ['#008000', "By'"], ['#0000ff', "Bz'"], ['#000000', '|B|']], [1660, 1683, 1705, 1728], 1614, 1636, 1652);

const axS = tsAxes('solar-wind-velocity-chart', 1972, -500, 100, ticksRange(-500, 100, 100), fmt0, 'Solar Wind Velocity (GSE Frame)', 'Vsw(km/s)', 46);
linePath(axS, tMin, vxSw, '#ff0000', 2.2, 'vx-line');
linePath(axS, tMin, vySw, '#008000', 2.2, 'vy-line');
linePath(axS, tMin, vzSw, '#0000ff', 2.2, 'vz-line');
tsLegend(axS, 1610, 1979, 70, [['#ff0000', 'Vx'], ['#008000', 'Vy'], ['#0000ff', 'Vz']], [1992, 2014, 2036], 1619, 1640, 1656);

const axB = tsAxes('plasma-beta-chart', 2307, 0, 5, ticksRange(0, 5, 1), fmt0, 'Plasma Beta', '', 0);
{
  const yl = label(axB.top, 77, 2418, '', 16, 'middle', 'y-axis-title', {transform: 'rotate(-90 77 2418)'});
  const a = mk('tspan', {'font-style': 'italic', 'font-family': 'Liberation Serif, serif', fill: '#555'}, yl); a.textContent = '\u03b2';
  const b = mk('tspan', {'font-size': 11, 'font-style': 'italic', dy: 4, fill: '#555'}, yl); b.textContent = 'p';
  const c = mk('tspan', {dy: -4}, yl); c.textContent = ' and ';
  const d = mk('tspan', {'font-style': 'italic', 'font-family': 'Liberation Serif, serif', fill: '#555'}, yl); d.textContent = '\u03b2';
}
linePath(axB, tMin, betaP, '#0000ff', 2.2, 'beta-p-line');
{
  const lg = legendBox(axB.top, 1613, 2314, 67, 32, 'legend');
  legendLine(lg, 1622, 1644, 2330, '#0000ff', 'legend-swatch');
  const t = label(lg, 1660, 2336, '\u03b2', 15, 'start', 'legend-entry', {'font-style': 'italic', 'font-family': 'Liberation Serif, serif', fill: '#555'});
  const s = mk('tspan', {'font-size': 10, dy: 3}, t); s.textContent = 'p';
}

const axN = tsAxes('proton-density-chart', 2639, 0, 40, ticksRange(0, 40, 5), fmt0, 'Proton Number Density', 'Np(#/cc)', 70);
linePath(axN, tMin, npDens, '#0000ff', 2.2, 'np-line');

const axT = tsAxes('proton-temperature-chart', 2974, 0, 0.5, ticksRange(0, 0.5, 0.1), v => v.toFixed(1), '', '', 0);
{
  const t = label(axT.top, TX0 + TW / 2, 2963, 'Proton Temperature and ', TITLE_SIZE, 'middle', 'chart-title');
  const a = mk('tspan', {'font-style': 'italic', 'font-family': 'Liberation Serif, serif'}, t); a.textContent = 'T';
  const b = mk('tspan', {'font-size': 14, 'font-style': 'italic', dy: 4}, t); b.textContent = 'e';
  const c = mk('tspan', {dy: -4, 'font-style': 'italic', 'font-family': 'Liberation Serif, serif'}, t); c.textContent = '/T';
  const d = mk('tspan', {'font-size': 14, 'font-style': 'italic', dy: 4}, t); d.textContent = 'p';
  const yl = label(axT.top, 62, 3086, 'Tp(10', 16, 'middle', 'y-axis-title', {transform: 'rotate(-90 62 3086)'});
  const e = mk('tspan', {'font-size': 10, dy: -6}, yl); e.textContent = '6';
  const f = mk('tspan', {dy: 6}, yl); f.textContent = 'K)';
}
linePath(axT, tMin, tpTemp, '#0000ff', 2.2, 'tp-line');
{
  const lg = legendBox(axT.top, 124, 2982, 72, 27, 'legend');
  legendLine(lg, 135, 156, 2995, '#0000ff', 'legend-swatch');
  label(lg, 172, 3001, 'Tp', 15, 'start', 'legend-entry');
}
</script>
</body></html>
